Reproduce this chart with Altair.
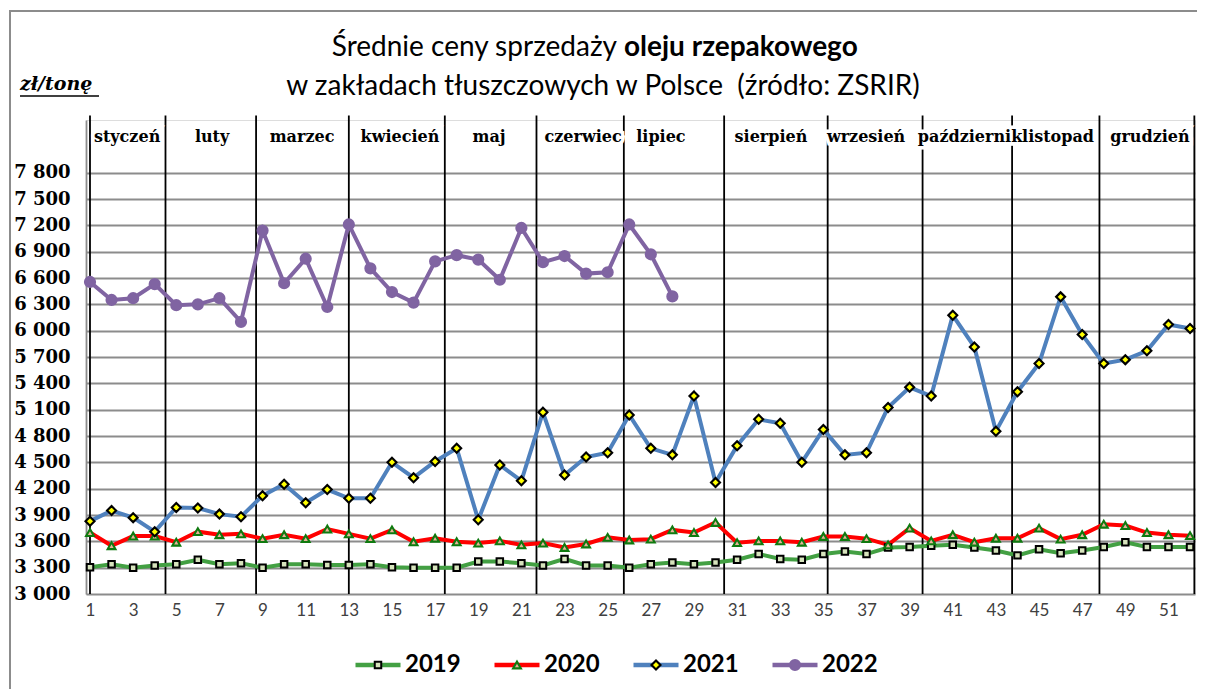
import altair as alt
import pandas as pd

# ---------------- data ----------------
weeks = list(range(1, 53))
years = ["2019", "2020", "2021", "2022"]

price_2019 = [3305, 3340, 3300, 3325, 3340, 3390, 3340, 3350, 3300, 3340,
              3340, 3330, 3330, 3340, 3305, 3300, 3300, 3300, 3370, 3370,
              3350, 3325, 3400, 3325, 3325, 3300, 3340, 3360, 3340, 3360,
              3390, 3455, 3400, 3390, 3455, 3485, 3455, 3530, 3535, 3550,
              3560, 3530, 3495, 3440, 3510, 3465, 3495, 3535, 3590, 3535,
              3535, 3535]
price_2020 = [3700, 3550, 3660, 3660, 3590, 3710, 3675, 3685, 3630, 3675,
              3630, 3740, 3685, 3630, 3730, 3595, 3635, 3595, 3580, 3605,
              3560, 3580, 3530, 3570, 3645, 3615, 3625, 3730, 3700, 3815,
              3585, 3605, 3605, 3590, 3655, 3655, 3630, 3560, 3750, 3605,
              3675, 3590, 3635, 3635, 3750, 3625, 3675, 3795, 3780, 3700,
              3675, 3665]
price_2021 = [3830, 3950, 3870, 3710, 3985, 3980, 3910, 3880, 4120, 4250,
              4040, 4190, 4090, 4090, 4500, 4325, 4510, 4660, 3845, 4470,
              4290, 5070, 4355, 4560, 4610, 5040, 4660, 4585, 5255, 4270,
              4690, 4990, 4945, 4500, 4875, 4585, 4610, 5125, 5355, 5255,
              6175, 5815, 4855, 5305, 5625, 6385, 5955, 5625, 5670, 5770,
              6070, 6025]
price_2022 = [6555, 6350, 6370, 6530, 6290, 6300, 6370, 6100, 7140, 6540,
              6820, 6270, 7210, 6710, 6440, 6320, 6790, 6860, 6810, 6580,
              7170, 6780, 6850, 6650, 6665, 7210, 6870, 6390]

months = ["styczeń", "luty", "marzec", "kwiecień", "maj", "czerwiec", "lipiec",
          "sierpień", "wrzesień", "październik", "listopad", "grudzień"]
month_label_week = [2.72, 6.66, 10.83, 15.37, 19.5, 23.86, 27.47, 32.57,
                    36.98, 41.8, 45.88, 50.14]
month_bounds = [1.0, 4.5, 8.7, 13.0, 17.45, 21.7, 25.75, 30.4, 35.2, 39.6,
                43.75, 47.8, 52.2]

y_ticks = list(range(3000, 7801, 300))
x_ticks = list(range(1, 52, 2))

title_regular = "Średnie ceny sprzedaży"
title_bold = "oleju rzepakowego"
title_line2 = "w zakładach tłuszczowych w Polsce\u00a0 (źródło: ZSRIR)"
unit_label = "zł/tonę"

# ---------------- styles ----------------
line_colors = ["#43a043", "#ff0000", "#4f81bd", "#8064a2"]
marker_shapes = ["square", "triangle-up", "diamond", "circle"]
marker_fills = ["#d7e4bd", "#e8b49a", "#ffff00", "#8064a2"]
marker_strokes = ["#000000", "#0f7a0f", "#000000", "#8064a2"]
marker_sizes = [42, 100, 250, 300]
marker_stroke_w = [2, 2.2, 2.5, 0]

rows = []
for yr, vals in zip(years, [price_2019, price_2020, price_2021, price_2022]):
    for w, v in zip(weeks, vals):
        rows.append({"week": w, "year": yr, "price": v})
df = pd.DataFrame(rows)

x_scale = alt.Scale(domain=[0.8146, 52.23], nice=False, zero=False)
y_scale = alt.Scale(domain=[3000, 8400], nice=False, zero=False)
color_scale = alt.Scale(domain=years, range=line_colors)

x_axis = alt.Axis(values=x_ticks, grid=False, domain=False, ticks=False,
                  labelFont="Lato", labelFontSize=17, labelColor="#404040",
                  labelPadding=8, labelFlush=False, labelOverlap=False)
y_axis = alt.Axis(values=y_ticks, tickCount=len(y_ticks), grid=True, gridColor="#8c8c8c",
                  gridWidth=1.8, domain=True, domainColor="#8c8c8c", domainWidth=1.8,
                  ticks=False, labelPadding=16, labelFont="DejaVu Serif",
                  labelFontWeight="bold", labelFontSize=18, labelColor="#000000",
                  labelOverlap=False, labelBound=False,
                  labelExpr="replace(format(datum.value, ','), ',', ' ')")

x_enc = alt.X("week:Q", scale=x_scale, title=None, axis=x_axis)
y_enc = alt.Y("price:Q", scale=y_scale, title=None, axis=y_axis)

marker_enc = dict(
    shape=alt.Shape("year:N", scale=alt.Scale(domain=years, range=marker_shapes), legend=None),
    fill=alt.Fill("year:N", scale=alt.Scale(domain=years, range=marker_fills), legend=None),
    stroke=alt.Stroke("year:N", scale=alt.Scale(domain=years, range=marker_strokes), legend=None),
    size=alt.Size("year:O", scale=alt.Scale(domain=years, range=marker_sizes), legend=None),
    strokeWidth=alt.StrokeWidth("year:O", scale=alt.Scale(domain=years, range=marker_stroke_w), legend=None),
)

seps = alt.Chart(pd.DataFrame({"b": month_bounds, "lo": 3000, "hi": 8450})).mark_rule(
    color="#000000", strokeWidth=1.8
).encode(x=alt.X("b:Q", scale=x_scale, title=None, axis=x_axis),
         y=alt.Y("lo:Q", scale=y_scale, title=None, axis=y_axis), y2="hi:Q")

lines = alt.Chart(df).mark_line(strokeWidth=4).encode(
    x=x_enc, y=y_enc,
    color=alt.Color("year:N", scale=color_scale, legend=None),
)

points = alt.Chart(df).mark_point(filled=True, opacity=1).encode(
    x=x_enc, y=y_enc, **marker_enc
)

month_df = pd.DataFrame({"m": months, "w": month_label_week})
month_halo = alt.Chart(month_df).mark_text(
    font="DejaVu Serif", fontWeight="bold", fontSize=16, baseline="middle",
    color="#ffffff", stroke="#ffffff", strokeWidth=7
).encode(x=alt.X("w:Q", scale=x_scale, title=None, axis=x_axis), y=alt.value(17), text="m:N")
month_text = alt.Chart(month_df).mark_text(
    font="DejaVu Serif", fontWeight="bold", fontSize=16, baseline="middle", color="#000000"
).encode(x=alt.X("w:Q", scale=x_scale, title=None, axis=x_axis), y=alt.value(17), text="m:N")

t1a = alt.Chart(pd.DataFrame({"t": [title_regular]})).mark_text(
    font="Lato", fontSize=28, align="right", baseline="middle", color="#000000"
).encode(x=alt.value(531), y=alt.value(-72), text="t:N")
t1b = alt.Chart(pd.DataFrame({"t": [title_bold]})).mark_text(
    font="Lato", fontSize=28, fontWeight="bold", align="left", baseline="middle", color="#000000"
).encode(x=alt.value(538), y=alt.value(-72), text="t:N")
t2 = alt.Chart(pd.DataFrame({"t": [title_line2]})).mark_text(
    font="Lato", fontSize=28, align="center", baseline="middle", color="#000000"
).encode(x=alt.value(517), y=alt.value(-33), text="t:N")
unit = alt.Chart(pd.DataFrame({"t": [unit_label]})).mark_text(
    font="DejaVu Serif", fontSize=19, fontWeight="bold", fontStyle="italic",
    align="left", baseline="middle", color="#000000"
).encode(x=alt.value(-66), y=alt.value(-36), text="t:N")
unit_ul = alt.Chart(pd.DataFrame({"t": [unit_label]})).mark_rule(
    color="#000000", strokeWidth=1.5
).encode(x=alt.value(-66), x2=alt.value(13), y=alt.value(-24))

frame = alt.Chart(pd.DataFrame({"k": [0]})).mark_rect(
    fill="transparent", stroke="#8c8c8c", strokeWidth=2
).encode(x=alt.value(-76), x2=alt.value(1300), y=alt.value(-109), y2=alt.value(800))

main = alt.layer(frame, seps, lines, points, month_halo, month_text, t1a, t1b, t2, unit, unit_ul)

# custom legend below the plot
leg_base = alt.Chart(pd.DataFrame({"year": years})).encode(
    x=alt.X("year:N", scale=alt.Scale(type="point", domain=years, range=[292, 709], padding=0), axis=None),
    y=alt.value(545),
)
leg_line = leg_base.mark_point(shape="stroke", size=2025, strokeWidth=4.5, filled=False, opacity=1).encode(
    color=alt.Color("year:N", scale=color_scale, legend=None)
)
leg_mark = leg_base.mark_point(filled=True, opacity=1).encode(**marker_enc)
leg_text = leg_base.mark_text(
    align="left", dx=27, font="Lato", fontWeight="bold", fontSize=24, baseline="middle", color="#000000"
).encode(text="year:N")
legend = alt.layer(leg_line, leg_mark, leg_text)

chart = alt.layer(main, legend).resolve_scale(x="independent").properties(
    width=1109, height=474,
    padding={"left": 78, "top": 112, "right": 2, "bottom": 95},
    autosize=alt.AutoSizeParams(type="none"),
).configure_view(stroke=None).configure_axis(labelOverlap=False).configure(background="#ffffff")

chart.save("out.html", embed_options={"renderer": "svg", "actions": False})
